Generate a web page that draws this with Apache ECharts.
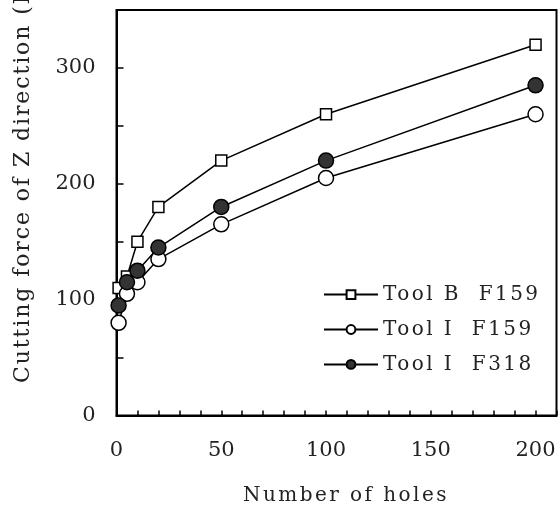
<!DOCTYPE html>
<html>
<head>
<meta charset="utf-8">
<script src="https://cdn.jsdelivr.net/npm/echarts@6/dist/echarts.min.js"></script>
<style>html,body{margin:0;padding:0;background:#fff}#c{width:560px;height:505px}</style>
</head>
<body>
<div id="c"></div>
<script>
const holes = [1, 5, 10, 20, 50, 100, 200];
const toolB_F159 = [110, 120, 150, 180, 220, 260, 320];
const toolI_F159 = [80, 105, 115, 135, 165, 205, 260];
const toolI_F318 = [95, 115, 125, 145, 180, 220, 285];
const seriesNames = ['Tool B  F159', 'Tool I  F159', 'Tool I  F318'];
const xTickLabels = [0, 50, 100, 150, 200];
const yTickLabels = [0, 100, 200, 300];

const FONT = 'DejaVu Serif';

// wide letter spacing like the reference's fixed-pitch serif face (keyed by font size)
const SPACING = {20: 2.45, 21: 0, 22: 1.9};
(function () {
  const P = CanvasRenderingContext2D.prototype;
  if (!('letterSpacing' in P)) return;
  const d = Object.getOwnPropertyDescriptor(P, 'font');
  Object.defineProperty(P, 'font', {
    configurable: true,
    get() { return d.get.call(this); },
    set(v) {
      d.set.call(this, v);
      const m = /(\d+(?:\.\d+)?)px/.exec(v);
      const s = m ? +m[1] : 0;
      this.letterSpacing = (SPACING[s] || 0) + 'px';
    }
  });
})();

const pair = (xs, ys) => xs.map((x, i) => [x, ys[i]]);

const chart = echarts.init(document.getElementById('c'), null, {renderer: 'canvas'});
const lineStyle = {color: '#000', width: 1.5};
chart.setOption({
  animation: false,
  backgroundColor: '#fff',
  grid: {left: 116.5, right: 3.5, top: 10, bottom: 89.5, containLabel: false, outerBoundsMode: 'none',
    show: true, borderColor: '#000', borderWidth: 2, backgroundColor: 'transparent'},
  xAxis: {
    type: 'value', min: 0, max: 210, interval: 10,
    axisLine: {lineStyle: {color: '#000', width: 2}},
    axisTick: {inside: true, length: 5, lineStyle: {color: '#000', width: 1.5}},
    splitLine: {show: false},
    axisLabel: {margin: 25, fontFamily: FONT, fontSize: 21, color: '#222',
      formatter: v => xTickLabels.includes(v) ? String(v) : ''},
    name: 'Number of holes', nameLocation: 'middle', nameGap: 69.5,
    nameTextStyle: {fontFamily: FONT, fontSize: 20, color: '#222', padding: [0, 0, 0, 19]}
  },
  yAxis: {
    type: 'value', min: 0, max: 350, interval: 50,
    axisLine: {lineStyle: {color: '#000', width: 2}},
    axisTick: {inside: true, length: 7, lineStyle: {color: '#000', width: 1.5}},
    splitLine: {show: false},
    axisLabel: {margin: 21, fontFamily: FONT, fontSize: 21, color: '#222',
      formatter: v => yTickLabels.includes(v) ? String(v) : ''}
  },
  graphic: [{
    type: 'text', x: 23, y: 383, rotation: Math.PI / 2,
    style: {text: 'Cutting force of Z direction (N)', fontFamily: FONT, fontSize: 22, fill: '#222',
      textAlign: 'left', textVerticalAlign: 'middle'}
  }],
  legend: {
    orient: 'vertical', left: 323, top: 283.3, padding: 0,
    itemWidth: 54, itemHeight: 11, itemGap: 12.5,
    textStyle: {fontFamily: FONT, fontSize: 20, color: '#222'},
    data: seriesNames
  },
  series: [
    {name: seriesNames[0], type: 'line', data: pair(holes, toolB_F159), symbol: 'rect', symbolSize: 11,
      lineStyle, itemStyle: {color: '#fff', borderColor: '#000', borderWidth: 1.5}},
    {name: seriesNames[1], type: 'line', data: pair(holes, toolI_F159), symbol: 'circle', symbolSize: 15,
      lineStyle, itemStyle: {color: '#fff', borderColor: '#000', borderWidth: 1.5}},
    {name: seriesNames[2], type: 'line', data: pair(holes, toolI_F318), symbol: 'circle', symbolSize: 15,
      lineStyle, itemStyle: {color: '#333', borderColor: '#000', borderWidth: 1.5}}
  ]
});
</script>
</body>
</html>
